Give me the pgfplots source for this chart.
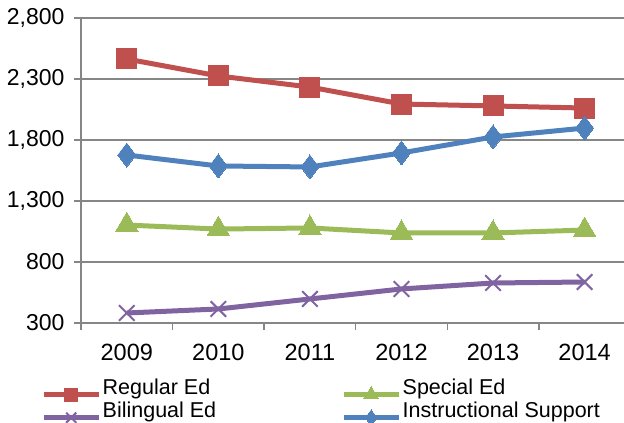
\documentclass[border=0pt]{standalone}
\usepackage{pgfplots}
\pgfplotsset{compat=1.18}
\usepackage{fontspec}
\setmainfont{Liberation Sans}
\definecolor{cred}{HTML}{C0504D}
\definecolor{cgreen}{HTML}{9BBB59}
\definecolor{cpurple}{HTML}{8064A2}
\definecolor{cblue}{HTML}{4F81BD}
\definecolor{cgrid}{HTML}{868686}
\begin{document}
\begin{tikzpicture}
\path[use as bounding box] (-81pt,-100pt) rectangle (543pt,323pt);
\begin{axis}[
  at={(0pt,0pt)}, anchor=south west,
  scale only axis, width=543pt, height=305pt,
  xmin=-0.5, xmax=5.43, ymin=300, ymax=2800,
  axis x line*=bottom, axis y line*=left,
  axis line style={cgrid, line width=1.4pt, -},
  xtick={-0.5,0.5,1.5,2.5,3.5,4.5}, xticklabels={},
  extra x ticks={0,1,2,3,4,5},
  extra x tick labels={2009,2010,2011,2012,2013,2014},
  extra x tick style={major tick length=0pt, tick style={draw=none}},
  ytick={300,800,1300,1800,2300,2800},
  ymajorgrids, grid style={cgrid, line width=1.4pt},
  major tick length=7pt,
  tick align=outside,
  tick style={cgrid, line width=1.4pt},
  x tick label style={font=\fontsize{23.5}{26}\selectfont, yshift=-18pt},
  y tick label style={font=\fontsize{23}{25}\selectfont, xshift=-6pt},
  /pgf/number format/assume math mode=true,
  /pgf/number format/.cd, 1000 sep={,},
  /pgfplots/.cd,
  legend columns=2,
  legend style={at={(axis description cs:0,0)}, anchor=north west,
    xshift=-40pt, yshift=-55pt, draw=none, fill=none, inner sep=0pt,
    font=\fontsize{21.5}{22}\selectfont, row sep=0pt,
    nodes={inner sep=1.5pt, anchor=base west, text height=15pt, text depth=5pt}},
  legend cell align=left,
  legend image code/.code={\draw[mark repeat=2,mark phase=2,#1,/tikz/every mark/.append style={scale=0.65}] plot coordinates {(0pt,0pt)(27.5pt,0pt)(55pt,0pt)};},
]
\addplot[cred, line width=5pt, mark=square*, mark size=10pt, mark options={solid, line width=0pt}]
  coordinates {(0,2464) (1,2325) (2,2234) (3,2095) (4,2079) (5,2062)};
\addlegendentry{\makebox[237pt][l]{Regular Ed}}
\addplot[cgreen, line width=5pt, mark=triangle*, mark size=13pt, mark options={solid, line width=0pt}]
  coordinates {(0,1103) (1,1070) (2,1079) (3,1038) (4,1038) (5,1062)};
\addlegendentry{Special Ed}
\addplot[cpurple, line width=5pt, mark=x, mark size=11pt, mark options={solid, line width=2pt}]
  coordinates {(0,382) (1,415) (2,497) (3,579) (4,628) (5,636)};
\addlegendentry{\makebox[237pt][l]{Bilingual Ed}}
\addplot[cblue, line width=5pt, mark=diamond*, mark size=12pt, mark options={solid, line width=0pt}]
  coordinates {(0,1677) (1,1587) (2,1579) (3,1694) (4,1825) (5,1898)};
\addlegendentry{Instructional Support}
\end{axis}
\end{tikzpicture}
\end{document}
